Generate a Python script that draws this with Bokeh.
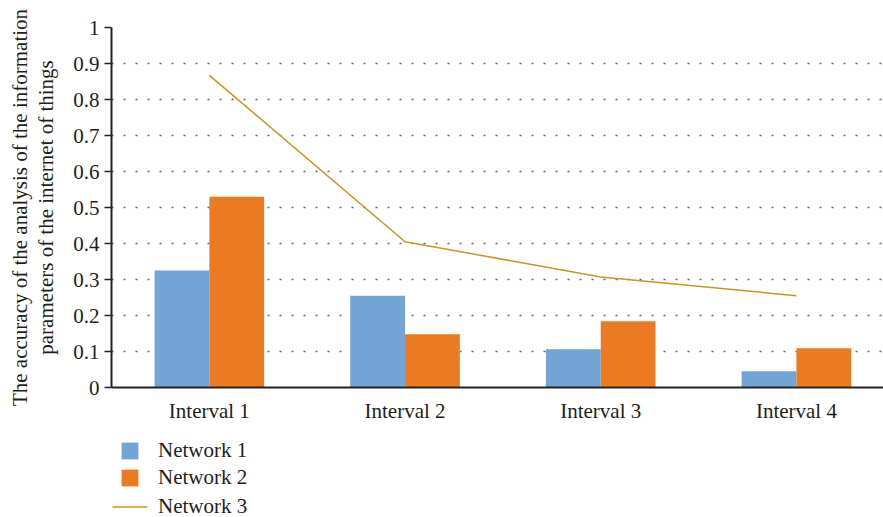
import numpy as np
from bokeh.plotting import figure
from bokeh.layouts import column
from bokeh.models import (Range1d, FixedTicker, Legend, LegendItem,
                          CustomJSTickFormatter)
from bokeh.transform import dodge
from bokeh.embed import file_html
from bokeh.resources import INLINE

# Chart data
intervals = ["Interval 1", "Interval 2", "Interval 3", "Interval 4"]
series_names = ["Network 1", "Network 2", "Network 3"]
network1 = [0.325, 0.255, 0.106, 0.045]
network2 = [0.530, 0.148, 0.184, 0.109]
network3 = [0.867, 0.405, 0.307, 0.255]
y_ticks = [0, 0.1, 0.2, 0.3, 0.4, 0.5, 0.6, 0.7, 0.8, 0.9, 1]

FONT = "Liberation Serif"
FSIZE = "21px"
TEXT = "#1e1e1e"
BLUE = "#72A4D6"
ORANGE = "#EC7A23"
GOLD = "#C9961F"
AXIS = "#222222"

centers = [i + 0.5 for i in range(len(intervals))]
src = dict(x=centers, n1=network1, n2=network2, n3=network3)

p = figure(width=883, height=425, output_backend="svg", toolbar_location=None,
           x_range=Range1d(0, 3.945), y_range=Range1d(0, 1))
p.min_border_left = 111
p.min_border_right = 0
p.min_border_top = 27
p.min_border_bottom = 37
p.outline_line_color = None
p.frame_align = False

p.vbar(x=dodge("x", -0.14), top="n1", width=0.28, source=src,
       fill_color=BLUE, line_color=None)
p.vbar(x=dodge("x", 0.14), top="n2", width=0.28, source=src,
       fill_color=ORANGE, line_color=None)
p.line(x="x", y="n3", source=src, line_color=GOLD, line_width=1.5)

# x axis: category labels under each group, no ticks
p.xaxis.ticker = FixedTicker(ticks=centers)
p.xaxis.major_label_overrides = {c: lab for c, lab in zip(centers, intervals)}
p.xaxis.major_tick_line_color = None
p.xaxis.minor_tick_line_color = None
p.xaxis.axis_line_color = AXIS
p.xaxis.axis_line_width = 2
p.xaxis.major_label_text_font = FONT
p.xaxis.major_label_text_font_size = FSIZE
p.xaxis.major_label_text_color = TEXT
p.xaxis.major_label_standoff = 5

# y axis
p.yaxis.ticker = FixedTicker(ticks=y_ticks)
p.yaxis.formatter = CustomJSTickFormatter(
    code="return tick.toFixed(1).replace(/\\.0$/, '');")
p.yaxis.minor_tick_line_color = None
p.yaxis.major_tick_out = 7
p.yaxis.major_tick_in = 0
p.yaxis.major_tick_line_color = AXIS
p.yaxis.major_tick_line_width = 1.5
p.yaxis.axis_line_color = AXIS
p.yaxis.axis_line_width = 2
p.yaxis.major_label_text_font = FONT
p.yaxis.major_label_text_font_size = FSIZE
p.yaxis.major_label_text_color = TEXT
p.yaxis.major_label_standoff = 5
p.yaxis.axis_label = ("The accuracy of the analysis of the information\n"
                      "parameters of the internet of things")
p.yaxis.axis_label_text_font = FONT
p.yaxis.axis_label_text_font_size = FSIZE
p.yaxis.axis_label_text_font_style = "normal"
p.yaxis.axis_label_text_color = TEXT
p.yaxis.axis_label_text_line_height = 1.1
p.yaxis.axis_label_standoff = 12

# dotted horizontal grid
p.xgrid.grid_line_color = None
p.ygrid.grid_line_color = "#666666"
p.ygrid.grid_line_dash = "2 10"
p.ygrid.grid_line_width = 1.3

# legend strip under the chart; its key glyphs are zero-size placeholders
lg = figure(width=883, height=92, output_backend="svg", toolbar_location=None,
            x_range=Range1d(0, 1), y_range=Range1d(0, 1),
            x_axis_location=None, y_axis_location=None)
lg.min_border_left = 0
lg.min_border_right = 0
lg.min_border_top = 0
lg.min_border_bottom = 0
lg.outline_line_color = None
lg.frame_align = False
lg.grid.visible = False
k1 = lg.vbar(x=[0.9], top=[0.5], bottom=[0.5], width=0.0,
             fill_color=BLUE, line_color=None)
k2 = lg.vbar(x=[0.9], top=[0.5], bottom=[0.5], width=0.0,
             fill_color=ORANGE, line_color=None)
k3 = lg.line(x=[0.9, 0.9], y=[0.5, 0.5], line_color=GOLD, line_width=1.5)

common = dict(orientation="vertical", spacing=2, padding=0, margin=0,
              label_text_font=FONT, label_text_font_size=FSIZE,
              label_text_color=TEXT, border_line_color=None,
              background_fill_alpha=0)
leg_bars = Legend(items=[LegendItem(label=series_names[0], renderers=[k1]),
                         LegendItem(label=series_names[1], renderers=[k2])],
                  location=(119, 27), glyph_width=21, glyph_height=21,
                  label_standoff=18, **common)
leg_line = Legend(items=[LegendItem(label=series_names[2], renderers=[k3])],
                  location=(112, -2), glyph_width=35, glyph_height=21,
                  label_standoff=11, **common)
lg.add_layout(leg_bars)
lg.add_layout(leg_line)

page = column(p, lg, spacing=0)
open("out.html", "w").write(file_html(page, INLINE))
